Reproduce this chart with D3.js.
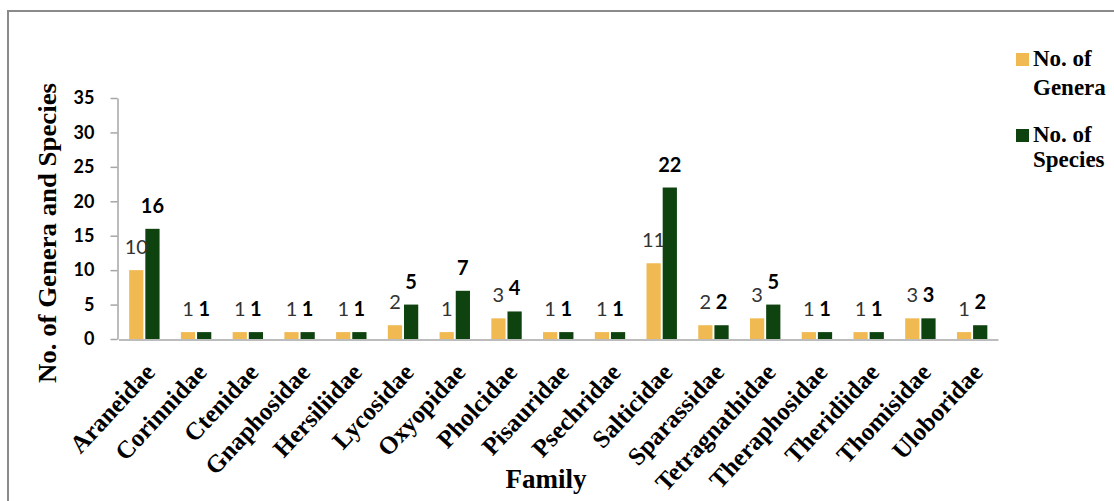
<!DOCTYPE html>
<html>
<head>
<meta charset="utf-8">
<script src="https://cdn.jsdelivr.net/npm/d3@7"></script>
<style>
  html, body { margin: 0; padding: 0; background: #fff; }
  svg { display: block; }
  .serif { font-family: "Liberation Serif", "Times New Roman", Times, serif; font-weight: bold; }
  .sans { font-family: Lato, "Liberation Sans", sans-serif; }
</style>
</head>
<body>
<svg id="chart" width="1114" height="501"></svg>
<script>
const families = ["Araneidae","Corinnidae","Ctenidae","Gnaphosidae","Hersiliidae","Lycosidae","Oxyopidae","Pholcidae","Pisauridae","Psechridae","Salticidae","Sparassidae","Tetragnathidae","Theraphosidae","Theridiidae","Thomisidae","Uloboridae"];
const genera  = [10,1,1,1,1,2,1,3,1,1,11,2,3,1,1,3,1];
const species = [16,1,1,1,1,5,7,4,1,1,22,2,5,1,1,3,2];
const seriesNames = ["No. of Genera","No. of Species"];
const yTicks = [0,5,10,15,20,25,30,35];

const colors = { g: "#F0B952", s: "#0E420F" };
const svg = d3.select("#chart");

// outer frame
svg.append("rect").attr("x", 8).attr("y", 11).attr("width", 1130).attr("height", 520)
  .attr("fill", "none").attr("stroke", "#8a8a8a").attr("stroke-width", 2);

const x0 = d3.scaleBand().domain(families).range([118.5, 998]).padding(0);
const x1 = d3.scaleBand().domain(["g","s"]).range([0, x0.bandwidth()]).paddingInner(0.12).paddingOuter(0.66);
const y = d3.scaleLinear().domain([0, 35]).range([339, 98]);

// y axis
const yAxis = d3.axisLeft(y).tickValues(yTicks).tickSize(7).tickPadding(16).tickSizeOuter(0);
const gy = svg.append("g").attr("transform", "translate(117.5,0)").call(yAxis);
gy.select(".domain").attr("stroke", "#a6a6a6").attr("stroke-width", 1.5);
gy.selectAll(".tick line").attr("stroke", "#a6a6a6").attr("stroke-width", 1.5);
gy.selectAll(".tick text").attr("class", "sans").attr("font-weight", "bold")
  .attr("font-size", 18).attr("fill", "#000");

// bars
const data = families.map((f, i) => ({ f, g: genera[i], s: species[i] }));
const groups = svg.append("g").selectAll("g").data(data).join("g")
  .attr("transform", d => `translate(${x0(d.f)},0)`);

groups.selectAll("rect").data(d => ["g","s"].map(k => ({ k, v: d[k] }))).join("rect")
  .attr("x", d => x1(d.k)).attr("width", x1.bandwidth())
  .attr("y", d => y(d.v)).attr("height", d => y(0) - y(d.v))
  .attr("fill", d => colors[d.k]);

// value labels
groups.selectAll("text.val").data(d => ["g","s"].map(k => ({ k, v: d[k] }))).join("text")
  .attr("class", "val sans")
  .attr("x", d => x1(d.k) + x1.bandwidth() / 2)
  .attr("y", d => y(d.v) - 16)
  .attr("text-anchor", "middle")
  .attr("font-size", 20)
  .attr("font-weight", d => d.k === "s" ? "bold" : "normal")
  .attr("fill", d => d.k === "s" ? "#000" : "#333")
  .text(d => d.v);

// x axis line + category labels
const xAxis = d3.axisBottom(x0).tickSize(0).tickPadding(0);
const gx = svg.append("g").attr("transform", "translate(0,339.5)").call(xAxis);
gx.select(".domain").attr("stroke", "#a6a6a6").attr("stroke-width", 1.5);
gx.selectAll(".tick text")
  .attr("class", "serif")
  .attr("font-size", 25).attr("fill", "#000")
  .attr("text-anchor", "end")
  .attr("dy", 0)
  .attr("transform", "translate(12,34) rotate(-47)");

// y title
svg.append("text")
  .attr("class", "serif")
  .attr("transform", "translate(56,233) rotate(-90)")
  .attr("text-anchor", "middle")
  .attr("font-size", 25)
  .attr("textLength", 300).attr("lengthAdjust", "spacingAndGlyphs")
  .text("No. of Genera and Species");

// x title
svg.append("text")
  .attr("class", "serif")
  .attr("x", 546).attr("y", 488)
  .attr("text-anchor", "middle")
  .attr("font-size", 27)
  .text("Family");

// legend
const legend = [
  { k: "g", name: seriesNames[0], sy: 53, lines: [["No. of", 66], ["Genera", 95]] },
  { k: "s", name: seriesNames[1], sy: 129, lines: [["No. of", 142], ["Species", 167]] }
];
const lg = svg.append("g");
legend.forEach(l => {
  lg.append("rect").attr("x", 1016).attr("y", l.sy).attr("width", 13).attr("height", 13).attr("fill", colors[l.k]);
  l.lines.forEach(([t, by]) => {
    lg.append("text").attr("class", "serif").attr("x", 1033).attr("y", by)
      .attr("font-size", 23).attr("fill", "#000")
      .text(t);
  });
});
</script>
</body>
</html>
